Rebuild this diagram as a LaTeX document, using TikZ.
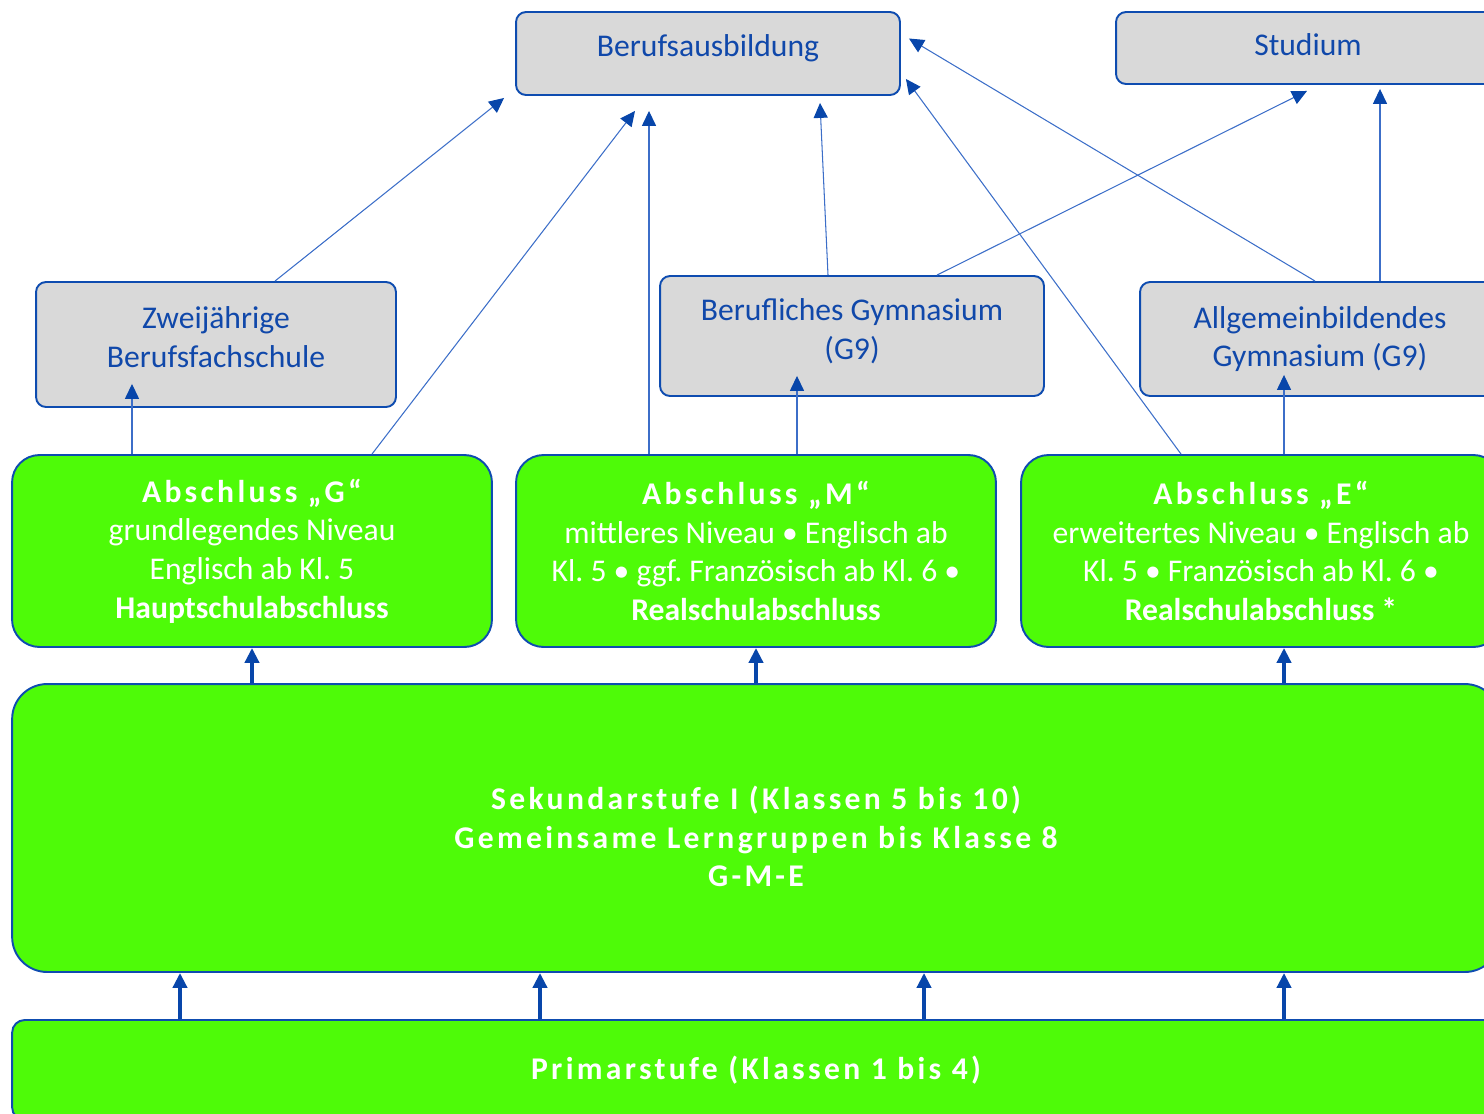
\documentclass[tikz,border=0pt]{standalone}
\usepackage{fontspec}
\setmainfont{Carlito}
\usetikzlibrary{arrows.meta,calc}
\frenchspacing

\definecolor{boxblue}{RGB}{14,76,176}
\definecolor{textblue}{RGB}{16,72,170}
\definecolor{linkblue}{RGB}{60,110,200}
\definecolor{tipblue}{RGB}{8,70,170}
\definecolor{boxgrey}{RGB}{217,217,217}
\definecolor{boxgreen}{RGB}{78,251,8}
\newcommand{\spaced}[1]{{\bfseries\addfontfeature{LetterSpace=10.5}#1}}
% extra depth / height to move a text block off the middle
\newcommand{\down}[1]{\rule[-#1]{0pt}{#1}}
\newcommand{\up}[1]{\rule{0pt}{#1}}

\begin{document}
\begin{tikzpicture}
  [x=0.02cm,y=-0.02cm,
   every node/.style={draw=boxblue,line width=1.1pt,align=center,inner sep=0pt,
     font=\fontsize{18}{22}\selectfont},
   greybox/.style={fill=boxgrey,text=textblue,rounded corners=0.2cm},
   greenbox/.style={fill=boxgreen,text=white,rounded corners=0.55cm,
     minimum width=9.6cm,minimum height=3.84cm},
   link/.style={draw=linkblue,line width=0.6pt,-{Triangle[length=8.5pt,width=8pt,color=tipblue]}},
   bigarrow/.style={draw=tipblue,line width=2.3pt,-{Triangle[length=8.5pt,width=8pt]}}]
  \clip (0,0) rectangle (1484,1113);

  % targets
  \node[greybox,minimum width=7.68cm,minimum height=1.66cm] (beruf) at (708,53.5) {Berufsausbildung\down{9.5pt}};
  \node[greybox,minimum width=7.68cm,minimum height=1.44cm] (stud) at (1308,48) {Studium\down{4pt}};

  % schools
  \node[greybox,minimum width=7.2cm,minimum height=2.5cm] (zwei) at (216,344.5) {Zweijährige\\Berufsfachschule\down{8.5pt}};
  \node[greybox,minimum width=7.68cm,minimum height=2.4cm] (bgym) at (852,336) {Berufliches Gymnasium\\(G9)\down{8pt}};
  \node[greybox,minimum width=7.2cm,minimum height=2.28cm] (agym) at (1320,339) {Allgemeinbildendes\\Gymnasium (G9)};

  % degrees
  \node[greenbox] (absG) at (252,551) {\spaced{Abschluss „G“}\\grundlegendes Niveau\\Englisch ab Kl. 5\\\textbf{Hauptschulabschluss}};
  \node[greenbox] (absM) at (756,551) {\spaced{Abschluss „M“}\\mittleres Niveau • Englisch ab\\Kl. 5 • ggf. Französisch ab Kl. 6 •\\\textbf{Realschulabschluss}};
  \node[greenbox] (absE) at (1261,551) {\spaced{Abschluss „E“}\\erweitertes Niveau • Englisch ab\\Kl. 5 • Französisch ab Kl. 6 •\\\textbf{Realschulabschluss *}};

  % levels
  \node[greenbox,minimum width=29.76cm,minimum height=5.76cm,rounded corners=0.7cm] (sek) at (756,828)
    {\up{23pt}\spaced{Sekundarstufe I (Klassen 5 bis 10)}\\\spaced{Gemeinsame Lerngruppen bis Klasse 8}\\\spaced{G-M-E}};
  \node[greenbox,minimum width=29.76cm,minimum height=2cm,rounded corners=0.25cm] (prim) at (756,1070)
    {\spaced{Primarstufe (Klassen 1 bis 4)}};

  % free arrow ends
  \coordinate (t1) at ($(beruf.south west)+(-11,2)$);
  \coordinate (t2) at ($(beruf.south)+(-73,15)$);
  \coordinate (t3) at ($(beruf.south)+(-59,15)$);
  \coordinate (t4) at ($(beruf.south)+(112,7)$);
  \coordinate (t5) at ($(beruf.south east)+(5,-17)$);
  \coordinate (t6) at ($(beruf.east)+(8,-15)$);
  \coordinate (t7) at ($(stud.south)+(-1,6)$);
  \coordinate (t8) at ($(stud.south)+(72,4)$);
  \coordinate (t9) at ($(zwei.south)+(-84,-24)$);
  \coordinate (t10) at ($(bgym.south)+(-55,-21)$);
  \coordinate (t11) at ($(agym.south)+(-36,-22)$);

  \foreach \from/\dx/\to in {zwei/59/t1,absG/120/t2,absM/-107/t3,bgym/-24/t4,absE/-80/t5,
      agym/-5/t6,bgym/85/t7,agym/60/t8,absG/-120/t9,absM/41/t10,absE/23/t11}
    \draw[link] ($(\from.north)+(\dx,0)$) -- (\to);

  \foreach \to/\dx in {absG/0,absM/0,absE/23}
    \draw[bigarrow] ($(\to.south |- sek.north)+(\dx,0)$) -- ($(\to.south)+(\dx,0)$);

  \foreach \dx in {-576,-216,168,528}
    \draw[bigarrow] ($(prim.north)+(\dx,0)$) -- ($(sek.south)+(\dx,0)$);

\end{tikzpicture}
\end{document}
